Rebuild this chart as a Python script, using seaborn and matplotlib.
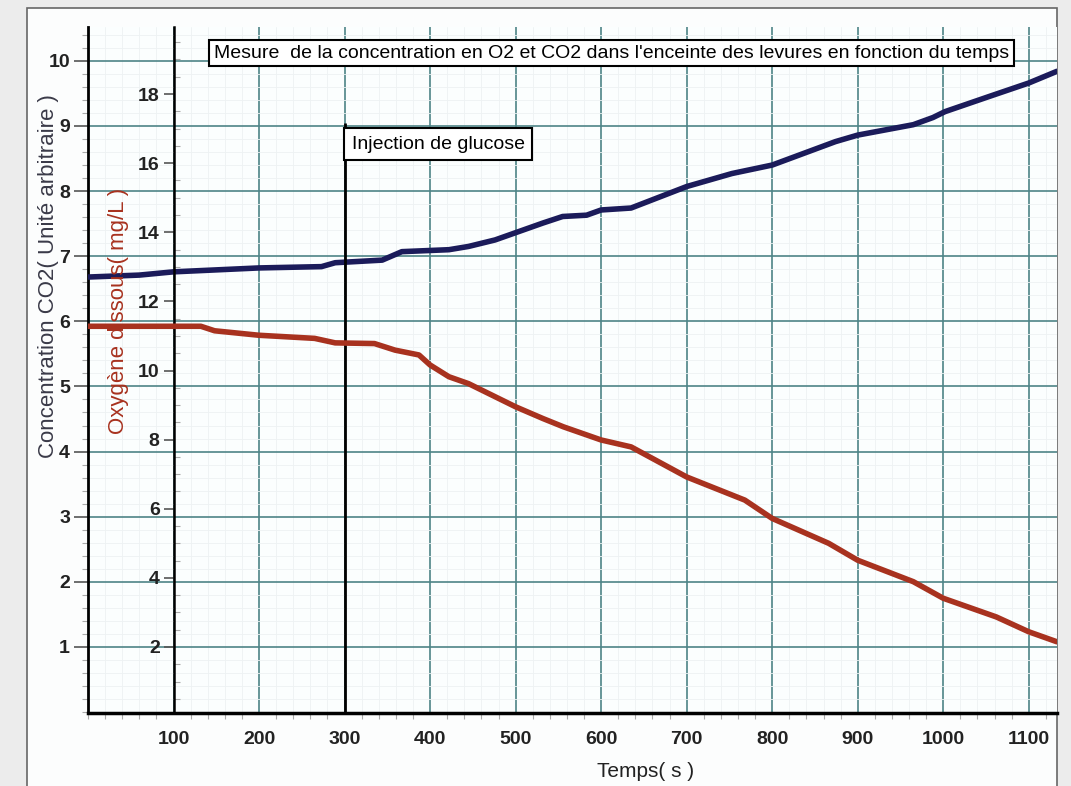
import matplotlib
matplotlib.use("Agg")
import matplotlib.pyplot as plt
from matplotlib.patches import Rectangle
from matplotlib.ticker import MultipleLocator
import pandas as pd
import seaborn as sns

temps_co2 = [0, 60, 100, 200, 273, 289, 344, 367, 422, 445, 476, 532, 555, 583,
             600, 635, 700, 753, 800, 874, 900, 965, 988, 1002, 1053, 1100, 1133]
co2 = [6.68, 6.71, 6.76, 6.82, 6.84, 6.90, 6.94, 7.07, 7.10, 7.15, 7.25, 7.51, 7.61, 7.63,
       7.71, 7.74, 8.07, 8.27, 8.40, 8.76, 8.86, 9.02, 9.13, 9.22, 9.45, 9.66, 9.84]

temps_o2 = [0, 132, 148, 200, 265, 289, 335, 359, 387, 400, 422, 445, 500, 532,
            556, 600, 635, 700, 768, 800, 866, 900, 965, 1000, 1062, 1100, 1133]
o2 = [11.28, 11.28, 11.15, 11.02, 10.93, 10.80, 10.78, 10.59, 10.45, 10.16, 9.82, 9.62, 8.95, 8.61,
      8.37, 7.99, 7.79, 6.92, 6.25, 5.72, 5.00, 4.51, 3.89, 3.41, 2.87, 2.44, 2.15]

ticks_temps = [100, 200, 300, 400, 500, 600, 700, 800, 900, 1000, 1100]
ticks_co2 = [1, 2, 3, 4, 5, 6, 7, 8, 9, 10]
ticks_o2 = [2, 4, 6, 8, 10, 12, 14, 16, 18]
injection_t = 300

sns.set_theme(style="white")
plt.rcParams["font.family"] = ["Liberation Sans", "DejaVu Sans"]

GRID = "#4d8487"
BLEU = "#1b1b5a"
ROUGE = "#a8321f"
TXT = "#222222"

fig = plt.figure(figsize=(10.71, 7.86), dpi=100, facecolor="#ececec")
# cadre de la page
fig.add_artist(Rectangle((27 / 1071, -0.01), 1030 / 1071, 0.9998, transform=fig.transFigure,
                         facecolor="#fcfdfd", edgecolor="#666666", lw=1.2, zorder=0))

ax = fig.add_axes([88 / 1071, 73 / 786, 969 / 1071, 686 / 786])
ax.set_facecolor("#fbfefe")

df_co2 = pd.DataFrame({"Temps": temps_co2, "CO2": co2})
df_o2 = pd.DataFrame({"Temps": temps_o2, "O2": o2})

sns.lineplot(data=df_co2, x="Temps", y="CO2", ax=ax, color=BLEU, lw=4, zorder=5)
ax.set_xlim(0, 1133)
ax.set_ylim(-0.015, 10.52)

# grilles
ax.set_xticks(ticks_temps)
ax.set_yticks(ticks_co2)
ax.xaxis.set_minor_locator(MultipleLocator(20))
ax.yaxis.set_minor_locator(MultipleLocator(0.2))
ax.grid(True, which="major", color=GRID, lw=1.2, zorder=1)
ax.grid(True, which="minor", color="#edf2f3", lw=0.6, zorder=0)
ax.set_axisbelow(True)

for s in ["top", "right"]:
    ax.spines[s].set_visible(False)
ax.spines["left"].set_color("black")
ax.spines["left"].set_linewidth(2)
ax.spines["bottom"].set_color("black")
ax.spines["bottom"].set_linewidth(2.5)

ax.tick_params(axis="both", which="major", direction="out", length=10, width=1.2,
               color="#555555", labelsize=14, labelcolor=TXT, pad=3)
ax.tick_params(axis="both", which="minor", direction="out", length=4, width=0.8,
               color="#aaaaaa", left=True, bottom=True)
for lab in ax.get_xticklabels() + ax.get_yticklabels():
    lab.set_fontweight("bold")

ax.set_xlabel("Temps( s )", fontsize=15, color=TXT)
ax.xaxis.set_label_coords(0.575, -0.072)
ax.set_ylabel("Concentration CO2( Unité arbitraire )", fontsize=16, color="#3a3a48")
ax.yaxis.set_label_coords(-0.030, 0.637)

# axe de l'oxygène, placé à t = 100 s
ax2 = ax.twinx()
sns.lineplot(data=df_o2, x="Temps", y="O2", ax=ax2, color=ROUGE, lw=4, zorder=5)
ax2.set_ylim(0.09, 19.94)
ax2.set_yticks(ticks_o2)
ax2.yaxis.set_minor_locator(MultipleLocator(0.5))
ax2.grid(False)
ax2.yaxis.tick_left()
ax2.yaxis.set_label_position("left")
for s in ["top", "right", "bottom"]:
    ax2.spines[s].set_visible(False)
ax2.spines["left"].set_visible(True)
ax2.spines["left"].set_position(("axes", 100 / 1133))
ax2.spines["left"].set_color("black")
ax2.spines["left"].set_linewidth(1.8)
ax2.tick_params(axis="y", which="major", direction="out", length=7, width=1.2,
                color="#555555", labelsize=14, labelcolor=TXT, pad=3, left=True, right=False)
ax2.tick_params(axis="y", which="minor", direction="in", length=4, width=0.8,
                color="#aaaaaa", left=True, right=False)
for lab in ax2.get_yticklabels():
    lab.set_fontweight("bold")
ax2.set_ylabel("Oxygène dissous( mg/L )", fontsize=16, color=ROUGE)
ax2.yaxis.set_label_coords(0.042, 0.586)

# injection de glucose
ax.vlines(injection_t, 0, 9.05, color="black", lw=2, zorder=6)
ax.annotate("Injection de glucose", xy=(injection_t, 8.72), xytext=(5, 0),
            textcoords="offset points", ha="left", va="center", fontsize=14, color="black",
            bbox=dict(boxstyle="square,pad=0.4", fc="white", ec="black", lw=1.5), zorder=7)

# titre encadré
ax.text(0.54, 0.962, "Mesure  de la concentration en O2 et CO2 dans l'enceinte des levures en fonction du temps",
        transform=ax.transAxes, ha="center", va="center", fontsize=14, color="black",
        bbox=dict(boxstyle="square,pad=0.25", fc="white", ec="black", lw=1.5), zorder=7)

fig.savefig("out.png", dpi=100, facecolor=fig.get_facecolor())
